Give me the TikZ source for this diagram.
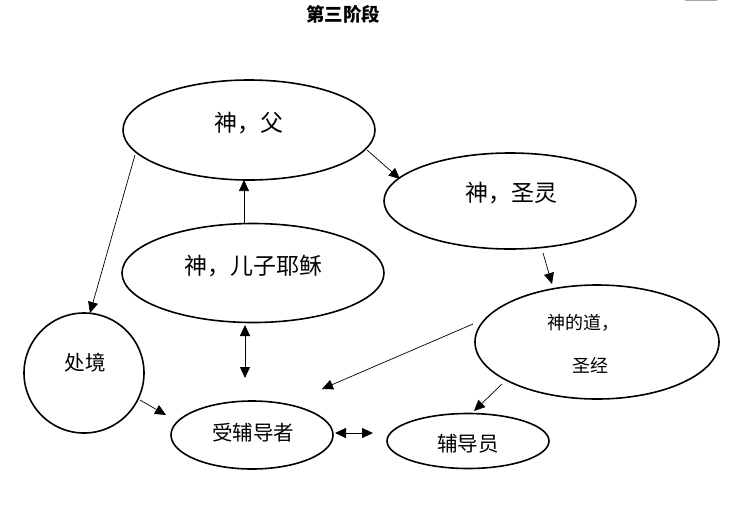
\documentclass[tikz,border=0pt]{standalone}
\usepackage{fontspec}
\setmainfont{Noto Sans CJK SC}
\newfontfamily\cjk{Noto Sans CJK SC}
\usetikzlibrary{arrows.meta,shapes.geometric}
\begin{document}
\begin{tikzpicture}[x=1pt,y=-1pt,
  ell/.style={draw,ellipse,line width=1.6pt,inner sep=0pt},
  conn/.style={line width=0.7pt,-{Triangle[length=11pt,width=10pt]}},
  dconn/.style={line width=0.9pt,{Triangle[length=11pt,width=10pt]}-{Triangle[length=11pt,width=10pt]}},
  big/.style={font=\cjk\fontsize{23}{26}\selectfont},
  mid/.style={font=\cjk\fontsize{20.5}{24}\selectfont},
  small/.style={font=\cjk\fontsize{18}{22}\selectfont}]
\useasboundingbox (0,0) rectangle (730,512);
\draw[gray!70,line width=1.5pt] (685,0.5) -- (717,0.5);
\node[font=\cjk\bfseries\fontsize{18.5}{22}\selectfont] (title) at (343,14) {第三阶段};
% ellipses
\node[ell,minimum width=252pt,minimum height=100pt] (father) at (249,130) {};
\node[big] (fatherT) at (249,123) {神，父};
\node[ell,minimum width=262pt,minimum height=99pt] (son) at (253,273) {};
\node[big] (sonT) at (253,266) {神，儿子耶稣};
\node[ell,minimum width=252pt,minimum height=96pt] (spirit) at (510,201) {};
\node[big] (spiritT) at (511,193) {神，圣灵};
\node[ell,minimum width=244pt,minimum height=114pt] (word) at (597,342) {};
\node[small] (wordT1) at (583,323) {神的道，};
\node[small] (wordT2) at (590,365) {圣经};
\node[ell,minimum width=162pt,minimum height=55pt] (counselor) at (468,441) {};
\node[mid] (counselorT) at (468,444) {辅导员};
\node[ell,minimum width=162pt,minimum height=68pt] (counselee) at (252,435) {};
\node[mid] (counseleeT) at (253,433) {受辅导者};
\node[draw,circle,line width=1.6pt,inner sep=0pt,minimum size=120pt] (sit) at (84,373) {};
\node[mid] (sitT) at (85,363) {处境};
% connector endpoints
\coordinate (a1) at (244,224); \coordinate (a2) at (244,180);
\coordinate (b1) at (367,150); \coordinate (b2) at (400,179);
\coordinate (c1) at (543,253); \coordinate (c2) at (552,284);
\coordinate (d1) at (473,324); \coordinate (d2) at (322,389);
\coordinate (e1) at (502,384); \coordinate (e2) at (474,411);
\coordinate (f1) at (335,433); \coordinate (f2) at (373,433);
\coordinate (g1) at (135,155); \coordinate (g2) at (90,313);
\coordinate (h1) at (140,400); \coordinate (h2) at (166,415);
\coordinate (i1) at (245,325); \coordinate (i2) at (245,378);
\draw[conn] (a1) -- (a2);
\draw[conn] (b1) -- (b2);
\draw[conn] (c1) -- (c2);
\draw[conn] (d1) -- (d2);
\draw[conn] (e1) -- (e2);
\draw[dconn] (f1) -- (f2);
\draw[conn] (g1) -- (g2);
\draw[conn] (h1) -- (h2);
\draw[dconn] (i1) -- (i2);
\end{tikzpicture}
\end{document}
